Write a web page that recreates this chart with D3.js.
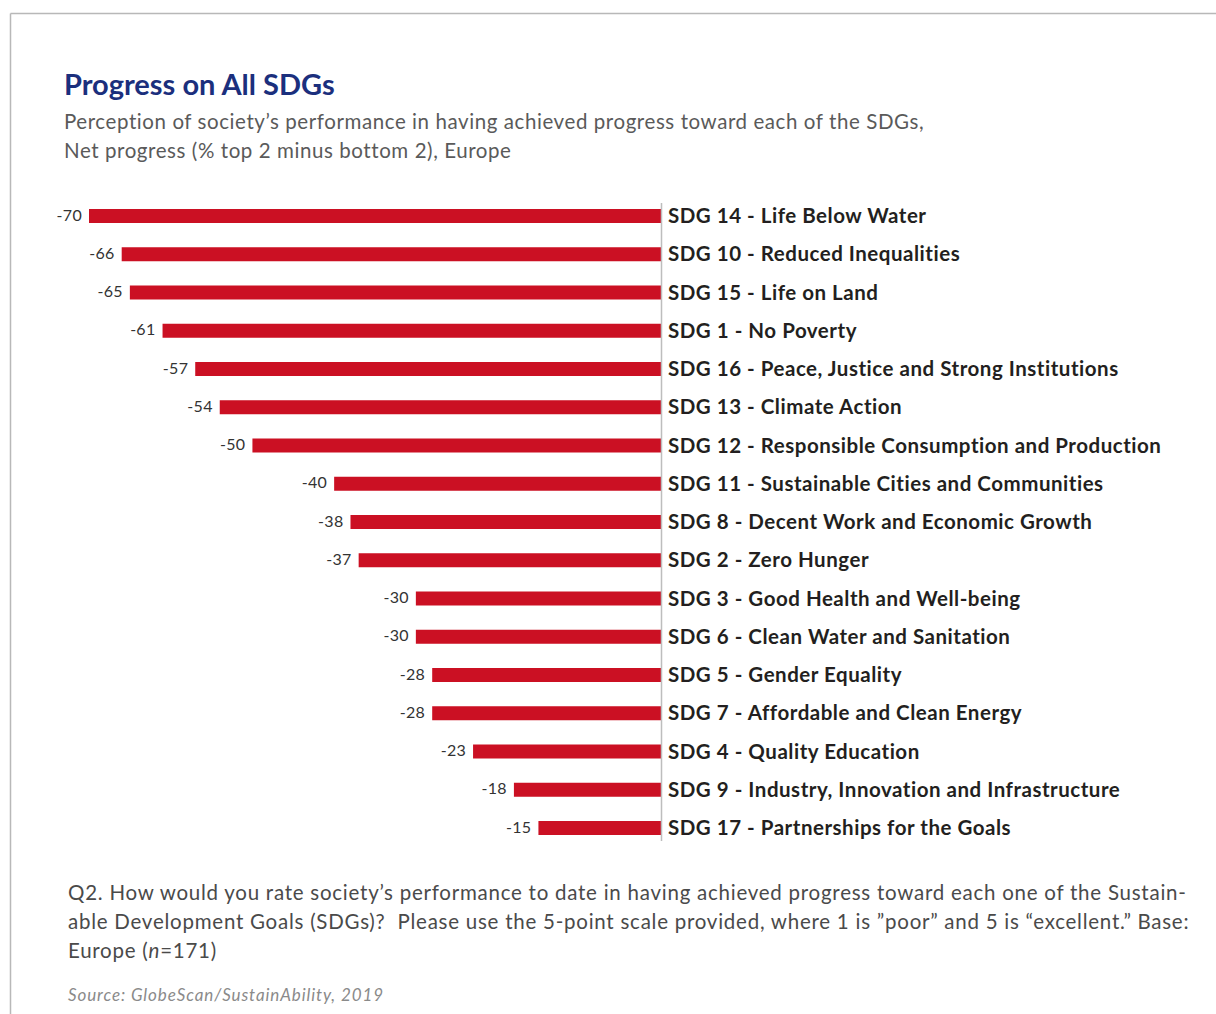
<!DOCTYPE html>
<html>
<head>
<meta charset="utf-8">
<script src="https://cdn.jsdelivr.net/npm/d3@7"></script>
<style>
  body { margin: 0; background: #fff; }
  svg { display: block; }
</style>
</head>
<body>
<svg id="chart"></svg>
<script>
// data
const categories = [
  "SDG 14 - Life Below Water",
  "SDG 10 - Reduced Inequalities",
  "SDG 15 - Life on Land",
  "SDG 1 - No Poverty",
  "SDG 16 - Peace, Justice and Strong Institutions",
  "SDG 13 - Climate Action",
  "SDG 12 - Responsible Consumption and Production",
  "SDG 11 - Sustainable Cities and Communities",
  "SDG 8 - Decent Work and Economic Growth",
  "SDG 2 - Zero Hunger",
  "SDG 3 - Good Health and Well-being",
  "SDG 6 - Clean Water and Sanitation",
  "SDG 5 - Gender Equality",
  "SDG 7 - Affordable and Clean Energy",
  "SDG 4 - Quality Education",
  "SDG 9 - Industry, Innovation and Infrastructure",
  "SDG 17 - Partnerships for the Goals"
];
const netProgress = [-70, -66, -65, -61, -57, -54, -50, -40, -38, -37, -30, -30, -28, -28, -23, -18, -15];

const title = "Progress on All SDGs";
const subtitle = [
  "Perception of society\u2019s performance in having achieved progress toward each of the SDGs,",
  "Net progress (% top 2 minus bottom 2), Europe"
];
const note = [
  "Q2. How would you rate society\u2019s performance to date in having achieved progress toward each one of the Sustain-",
  "able Development Goals (SDGs)?  Please use the 5-point scale provided, where 1 is \u201dpoor\u201d and 5 is \u201cexcellent.\u201d Base:"
];
const source = "Source: GlobeScan/SustainAbility, 2019";

const width = 1216;
const height = 1014;
const font = "Lato, sans-serif";

const svg = d3.select('svg#chart')
  .attr('width', width)
  .attr('height', height)
  .style('font-family', font);

// frame lines (top and left)
svg.append('line')
  .attr('x1', 10.5).attr('x2', width)
  .attr('y1', 13.5).attr('y2', 13.5)
  .attr('stroke', '#b8b8b8').attr('stroke-width', 1.5);
svg.append('line')
  .attr('x1', 10.5).attr('x2', 10.5)
  .attr('y1', 13.5).attr('y2', height)
  .attr('stroke', '#b8b8b8').attr('stroke-width', 1.5);

// titles
svg.append('text')
  .attr('x', 64).attr('y', 95)
  .attr('fill', '#1b2f7d')
  .style('font-weight', 'bold')
  .style('font-size', '29px')
  .text(title);

svg.selectAll('text.sub')
  .data(subtitle)
  .enter()
  .append('text')
    .attr('class', 'sub')
    .attr('x', 64)
    .attr('y', (d, i) => 129 + i * 29)
    .attr('fill', '#5a5a5a')
    .style('font-size', '20.5px')
    .style('letter-spacing', '0.58px')
    .text(d => d);

// scales
const x = d3.scaleLinear()
  .domain([-70, 0])
  .range([89, 661]);

const y = d3.scalePoint()
  .domain(categories)
  .range([216, 828]);

const barH = 14;
const rows = categories.map((c, i) => ({cat: c, value: netProgress[i]}));

const graph = svg.append('g');

graph.selectAll('rect')
  .data(rows)
  .enter()
  .append('rect')
    .attr('x', d => x(d.value))
    .attr('y', d => y(d.cat) - barH / 2)
    .attr('width', d => x(0) - x(d.value))
    .attr('height', barH)
    .attr('fill', '#cb1023');

// zero axis
graph.append('line')
  .attr('x1', x(0) + 0.5).attr('x2', x(0) + 0.5)
  .attr('y1', 203).attr('y2', 841)
  .attr('stroke', '#bdbdbd').attr('stroke-width', 1.5);

// value labels
graph.selectAll('text.val')
  .data(rows)
  .enter()
  .append('text')
    .attr('class', 'val')
    .attr('x', d => x(d.value) - 7)
    .attr('y', d => y(d.cat) + 4.5)
    .attr('text-anchor', 'end')
    .attr('fill', '#333')
    .style('font-size', '16px')
    .style('letter-spacing', '0.3px')
    .text(d => d.value);

// category labels
graph.selectAll('text.cat')
  .data(rows)
  .enter()
  .append('text')
    .attr('class', 'cat')
    .attr('x', 668)
    .attr('y', d => y(d.cat) + 7)
    .attr('fill', '#231f20')
    .style('font-weight', 'bold')
    .style('font-size', '20.5px')
    .style('letter-spacing', '0.52px')
    .text(d => d.cat);

// question note
const noteG = svg.append('g')
  .style('font-size', '20.5px')
  .style('letter-spacing', '0.75px')
  .attr('fill', '#4a4a4a');
noteG.selectAll('text')
  .data(note)
  .enter()
  .append('text')
    .attr('x', 68)
    .attr('y', (d, i) => 900 + i * 29)
    .style('white-space', 'pre')
    .text(d => d);
const last = noteG.append('text').attr('x', 68).attr('y', 958);
last.append('tspan').text('Europe (');
last.append('tspan').style('font-style', 'italic').text('n');
last.append('tspan').text('=171)');

svg.append('text')
  .attr('x', 68).attr('y', 1001)
  .attr('fill', '#8a8a8a')
  .style('font-style', 'italic')
  .style('font-size', '17px')
  .style('letter-spacing', '0.9px')
  .text(source);
</script>
</body>
</html>
